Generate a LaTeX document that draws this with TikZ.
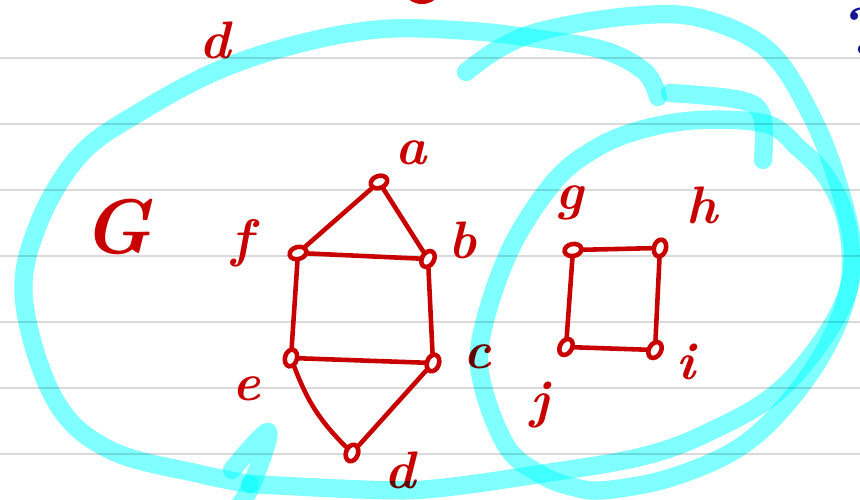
\documentclass[tikz,border=0pt]{standalone}
\usepackage{tikz}
\usetikzlibrary{
    shapes.geometric
}
\definecolor{InkRed}{RGB}{200,0,0}
\definecolor{HiCyan}{RGB}{0,255,255}
\definecolor{InkNavy}{RGB}{20,20,150}
\definecolor{RuleGray}{RGB}{218,218,218}
\tikzset{
  vtx/.style  = {draw=InkRed, ellipse, line width=1.3pt, fill=white,
                 inner sep=0pt, minimum width=0.17cm, minimum height=0.12cm},
  lbl/.style  = {text=InkRed, inner sep=0pt,
                 font=\fontsize{15}{18}\selectfont\bfseries\itshape},
  ln/.style   = {draw=InkRed, line width=1.3pt, line cap=round},
  rule/.style = {draw=RuleGray, line width=0.7pt},
  hl/.style   = {draw=HiCyan, draw opacity=0.5, line width=5.2pt,
                 line cap=round, line join=round}
}

\begin{document}
\begin{tikzpicture}[
    x=0.01cm, y=-0.01cm,
    biglbl/.style={lbl, font=\fontsize{22}{26}\selectfont\bfseries\itshape}
]
\useasboundingbox (0,0) rectangle (860,500);
\clip (0,0) rectangle (860,500);
\fill[white] (0,0) rectangle (860,500);

% ruled paper
\foreach \yy in {58,124,...,454}
  \draw[rule] (0,\yy) -- (860,\yy);

% graph G: first component
\node[vtx, rotate=20] (a) at (379,182) {};
\node[vtx, rotate=15] (f) at (298,253) {};
\node[vtx, rotate=60] (b) at (428,259) {};
\node[vtx, rotate=75] (e) at (291,358) {};
\node[vtx, rotate=70] (c) at (433,363) {};
\node[vtx, rotate=70] (d) at (352,453) {};

\draw[ln] (a) -- (f);
\draw[ln] (a) -- (b);
\draw[ln] (f) -- (b);
\draw[ln] (f) -- (e);
\draw[ln] (b) -- (c);
\draw[ln] (e) -- (c);
\draw[ln] (e) to[bend right=12] (d);
\draw[ln] (c) -- (d);

% second component
\node[vtx, rotate=10] (g) at (573,250) {};
\node[vtx, rotate=75] (h) at (660,248) {};
\node[vtx, rotate=60] (j) at (566,347) {};
\node[vtx, rotate=60] (i) at (655,350) {};

\draw[ln] (g) -- (h);
\draw[ln] (h) -- (i);
\draw[ln] (i) -- (j);
\draw[ln] (j) -- (g);

% labels
\node[lbl] (la) at (411,153) {a};
\node[lbl] (lf) at (242,243) {f};
\node[lbl] (lb) at (463,240) {b};
\node[lbl] (lc) at (478,357) {c};
\node[lbl] (le) at (247,389) {e};
\node[lbl] (ld) at (400,470) {d};
\node[lbl] (lg) at (570,203) {g};
\node[lbl] (lh) at (702,205) {h};
\node[lbl] (li) at (686,362) {i};
\node[lbl] (lj) at (540,405) {j};
\node[lbl] (ltop) at (215,40) {d};
\node[biglbl] (lG) at (117,227) {G};
\node[text=InkNavy, anchor=west, inner sep=0pt,
      font=\fontsize{19}{22}\selectfont\bfseries] (q) at (846,31) {?};
\draw[ln] (411,-2) .. controls (417,3) and (427,3) .. (433,-2);

% highlighter loops
\begin{scope}[blend mode=multiply]
\draw[hl] plot[smooth, tension=0.6] coordinates {
  (466,72) (500,48) (545,30) (631,16) (700,18) (768,50) (812,117)
  (840,190) (853,260) (835,320) (780,390) (707,433) (640,457)
  (540,474) (440,488) (378,490) (250,484)};
\draw[hl] plot[smooth, tension=0.6] coordinates {
  (250,484) (200,474) (110,450) (55,400) (24,300) (38,225) (80,155)
  (140,112) (219,70) (302,43) (384,29) (470,31) (532,38) (603,50)
  (645,72) (658,97)};
\draw[hl] plot[smooth, tension=0.6] coordinates {
  (795,145) (767,124) (700,120) (640,130) (593,150) (553,183) (510,250)
  (482,333) (482,383) (507,447) (540,474) (573,487) (607,490)
  (673,477) (740,447) (790,400) (830,340) (850,280) (846,220)
  (825,175) (795,145)};
\draw[hl] plot[smooth, tension=0.6] coordinates {
  (670,93) (740,100) (762,116) (763,160)};
\draw[hl] plot[smooth, tension=0.6] coordinates {
  (232,470) (268,432) (252,484) (236,510)};
\end{scope}
\end{tikzpicture}
\end{document}
